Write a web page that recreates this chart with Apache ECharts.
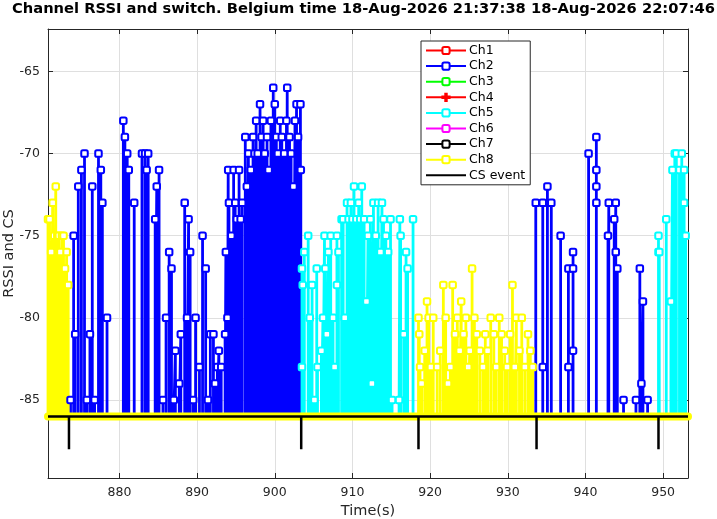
<!DOCTYPE html>
<html>
<head>
<meta charset="utf-8">
<script src="https://cdn.jsdelivr.net/npm/echarts@6/dist/echarts.min.js"></script>
<style>
  html, body { margin: 0; padding: 0; background: #fff; }
  #chart { width: 717px; height: 519px; }
</style>
</head>
<body>
<div id="chart"></div>
<script>
// rssi floor: every trace drops back here between samples
const BASE = -86;
const CS_LOW = -88;
const timeSpan = [870.8, 953.2];
const rssiSpan = [-89.75, -62.42];
const timeTicks = [880, 890, 900, 910, 920, 930, 940, 950];
const rssiTicks = [-85, -80, -75, -70, -65];

const ch1Time = [], ch1Rssi = [];
const ch3Time = [], ch3Rssi = [];
const ch4Time = [], ch4Rssi = [];
const ch6Time = [], ch6Rssi = [];
const ch7Time = [], ch7Rssi = [];

const ch2Time = [
  873.7, 874.1, 874.3, 874.7, 875.1, 875.5, 875.8, 876.2, 876.5, 876.8, 877.3, 877.6, 877.8, 878.4,
  880.5, 880.7, 881.0, 881.2, 881.9, 882.9, 883.3, 883.5, 883.7, 884.6, 884.8, 885.1, 885.6,
  886.0, 886.4, 886.7, 887.0, 887.2, 887.7, 887.9, 888.4, 888.7, 888.9, 889.1, 889.5, 889.8,
  890.3, 890.7, 891.1, 891.4, 891.7, 892.1, 892.3, 892.6, 892.8, 893.1, 893.6, 893.7, 893.9,
  894.0, 894.1, 894.4, 894.7, 894.9, 895.1, 895.4, 895.6, 895.8, 896.2, 896.4, 896.6, 896.9,
  897.2, 897.4, 897.6, 897.8, 898.1, 898.3, 898.5, 898.7, 899.0, 899.2, 899.5, 899.8, 900.0,
  900.2, 900.4, 900.7, 900.9, 901.2, 901.5, 901.6, 901.9, 902.1, 902.4, 902.6, 902.8, 903.0,
  903.3, 903.35,
  933.6, 934.5, 934.5, 935.1, 935.6, 936.8, 937.8, 937.8, 938.4, 938.4, 938.4, 940.4, 941.4,
  941.4, 941.4, 941.4, 942.9, 943.0, 943.7, 943.9, 943.9, 944.1, 944.9, 946.5, 947.0, 947.2,
  947.4, 948.0
];
const ch2Rssi = [
  -85, -75, -81, -72, -71, -70, -85, -81, -72, -85, -70, -71, -73, -80,
  -68, -69, -70, -71, -73, -70, -70, -71, -70, -74, -72, -71, -85,
  -80, -76, -77, -85, -82, -84, -81, -73, -80, -74, -76, -85, -80,
  -83, -75, -77, -85, -81, -81, -84, -83, -82, -83, -81, -76, -80,
  -71, -73, -75, -71, -73, -74, -71, -74, -73, -69, -72, -70, -71,
  -69, -70, -68, -70, -67, -69, -68, -70, -69, -71, -68, -66, -67,
  -69, -70, -68, -69, -70, -68, -66, -69, -70, -72, -68, -67, -69,
  -67, -71,
  -73, -73, -83, -72, -73, -75, -77, -83, -76, -77, -82, -70, -69,
  -71, -72, -73, -75, -73, -74, -73, -76, -77, -85, -85, -77, -84,
  -79, -85
];

const ch5Time = [
  903.5, 903.5, 903.6, 903.8, 904.3, 904.5, 904.8, 905.1, 905.4, 905.5, 906.0, 906.2, 906.4,
  906.5, 906.7, 906.9, 907.2, 907.5, 907.7, 908.0, 908.0, 908.2, 908.6, 908.8, 909.0, 909.3,
  909.5, 909.8, 910.0, 910.2, 910.5, 910.8, 911.0, 911.2, 911.5, 911.8, 912.0, 912.3, 912.5,
  912.7, 913.0, 913.3, 913.6, 913.8, 914.0, 914.3, 914.6, 914.9, 915.1, 916.0, 916.1, 916.2,
  916.6, 916.9, 917.1, 917.8,
  949.4, 949.4, 949.5, 950.4, 951.0, 951.2, 951.5, 951.7, 952.1, 952.4, 952.7, 952.7, 952.9
];
const ch5Rssi = [
  -77, -83, -78, -76, -75, -80, -78, -85, -77, -83, -82, -80, -75,
  -77, -81, -76, -75, -80, -83, -75, -78, -76, -74, -74, -80, -73,
  -74, -73, -74, -72, -74, -73, -74, -72, -74, -79, -75, -74, -84,
  -73, -75, -73, -76, -73, -74, -75, -76, -74, -85, -85, -74, -75,
  -81, -76, -77, -74,
  -76, -75, -76, -74, -79, -71, -70, -70, -71, -70, -71, -73, -75
];

const ch8Time = [
  870.8, 871.0, 871.2, 871.4, 871.6, 871.8, 872.0, 872.2, 872.4, 872.6, 872.8, 873.0, 873.2, 873.4,
  918.5, 918.6, 918.7, 918.9, 919.3, 919.6, 919.8, 920.1, 920.4, 920.9, 921.3, 921.7, 922.0,
  922.3, 922.6, 922.9, 923.2, 923.5, 923.8, 924.0, 924.3, 924.6, 924.9, 925.1, 925.4, 925.7,
  926.0, 926.4, 926.8, 927.1, 927.4, 927.8, 928.2, 928.5, 928.9, 929.2, 929.6, 929.9, 930.3,
  930.6, 930.9, 931.1, 931.5, 931.8, 932.2, 932.6, 932.9, 933.2
];
const ch8Rssi = [
  -74, -74, -76, -73, -75, -72, -75, -75, -76, -75, -75, -77, -76, -78,
  -80, -81, -83, -84, -82, -79, -80, -83, -80, -83, -82, -78, -80,
  -84, -83, -78, -81, -80, -82, -79, -81, -80, -83, -82, -77, -80,
  -81, -82, -83, -81, -82, -80, -81, -83, -80, -81, -82, -83, -81,
  -78, -83, -80, -82, -80, -83, -81, -82, -83
];

const csTime = [873.5, 903.4, 918.5, 933.7, 949.4];

const INK = '#262626';
const FONT = 'DejaVu Sans';

function stems(times, values) {
  const out = [];
  times.forEach((t, i) => {
    out.push({ value: [t, BASE], symbol: 'none' });
    out.push([t, values[i]]);
    out.push({ value: [t, BASE], symbol: 'none' });
  });
  return out;
}

function channel(name, color, times, values, symbol) {
  return {
    name: name,
    type: 'line',
    data: stems(times, values),
    symbol: symbol || 'emptyRoundRect',
    symbolSize: 6.5,
    showAllSymbol: true,
    itemStyle: { color: color, borderColor: color, borderWidth: 2.3 },
    lineStyle: { color: color, width: 2.8 },
    emphasis: { disabled: true }
  };
}

const csData = [[timeSpan[0], BASE]];
csTime.forEach(t => {
  csData.push([t, BASE], [t, CS_LOW], [t, BASE]);
});
csData.push([timeSpan[1], BASE]);

const plus = 'path://M4,0H6V4H10V6H6V10H4V6H0V4H4Z';

const chart = echarts.init(document.getElementById('chart'));
const option = {
  animation: false,
  backgroundColor: '#fff',
  title: {
    text: 'Channel RSSI and switch. Belgium time 18-Aug-2026 21:37:38 18-Aug-2026 22:07:46',
    left: 7,
    top: -3,
    textStyle: { fontFamily: FONT, fontSize: 14.7, fontWeight: 'bold', color: '#000' }
  },
  legend: {
    orient: 'vertical',
    left: 421,
    top: 41,
    padding: [3, 5, 3, 4],
    itemWidth: 40,
    itemHeight: 9,
    itemGap: 2.6,
    backgroundColor: '#fff',
    borderColor: INK,
    borderWidth: 1,
    textStyle: { fontFamily: FONT, fontSize: 12.5, color: '#000', padding: [0, 0, 0, -2] },
    data: ['Ch1', 'Ch2', 'Ch3', 'Ch4', 'Ch5', 'Ch6', 'Ch7', 'Ch8',
      { name: 'CS event', itemStyle: { opacity: 0 } }]
  },
  grid: { left: 48, right: 29, top: 29, bottom: 41, outerBoundsMode: 'none' },
  xAxis: [{
    type: 'value',
    min: timeSpan[0],
    max: timeSpan[1],
    name: 'Time(s)',
    nameLocation: 'middle',
    nameGap: 26,
    nameMoveOverlap: false,
    nameTextStyle: { fontFamily: FONT, fontSize: 14.5, color: INK },
    axisLine: { show: true, onZero: false, lineStyle: { color: INK } },
    axisTick: { show: true, inside: true, length: 5, customValues: timeTicks, lineStyle: { color: INK } },
    axisLabel: { customValues: timeTicks, fontFamily: FONT, fontSize: 12.5, color: INK, margin: 8 },
    splitLine: { show: true, lineStyle: { color: '#dfdfdf' } }
  }, {
    type: 'value',
    position: 'top',
    min: timeSpan[0],
    max: timeSpan[1],
    axisLine: { show: true, onZero: false, lineStyle: { color: INK } },
    axisTick: { show: true, inside: true, length: 5, customValues: timeTicks, lineStyle: { color: INK } },
    axisLabel: { show: false },
    splitLine: { show: false }
  }],
  yAxis: [{
    type: 'value',
    min: rssiSpan[0],
    max: rssiSpan[1],
    name: 'RSSI and CS',
    nameLocation: 'middle',
    nameGap: 31,
    nameMoveOverlap: false,
    nameTextStyle: { fontFamily: FONT, fontSize: 14.5, color: INK },
    axisLine: { show: true, onZero: false, lineStyle: { color: INK } },
    axisTick: { show: true, inside: true, length: 5, customValues: rssiTicks, lineStyle: { color: INK } },
    axisLabel: { customValues: rssiTicks, fontFamily: FONT, fontSize: 12.5, color: INK, margin: 8 },
    splitLine: { show: true, lineStyle: { color: '#dfdfdf' } }
  }, {
    type: 'value',
    position: 'right',
    min: rssiSpan[0],
    max: rssiSpan[1],
    axisLine: { show: true, onZero: false, lineStyle: { color: INK } },
    axisTick: { show: true, inside: true, length: 5, customValues: rssiTicks, lineStyle: { color: INK } },
    axisLabel: { show: false },
    splitLine: { show: false }
  }],
  series: [
    channel('Ch1', '#ff0000', ch1Time, ch1Rssi),
    channel('Ch2', '#0000ff', ch2Time, ch2Rssi),
    channel('Ch3', '#00ff00', ch3Time, ch3Rssi),
    channel('Ch4', '#ff0000', ch4Time, ch4Rssi, plus),
    channel('Ch5', '#00ffff', ch5Time, ch5Rssi),
    channel('Ch6', '#ff00ff', ch6Time, ch6Rssi),
    channel('Ch7', '#000000', ch7Time, ch7Rssi),
    channel('Ch8', '#ffff00', ch8Time, ch8Rssi),
    {
      // ch8 rests on the floor for the whole run: draw that as one thick band
      name: 'Ch8',
      type: 'line',
      data: [[timeSpan[0], BASE], [timeSpan[1], BASE]],
      symbol: 'none',
      clip: false,
      lineStyle: { color: '#ffff00', width: 8, cap: 'round' },
      emphasis: { disabled: true }
    },
    {
      name: 'CS event',
      type: 'line',
      data: csData,
      symbol: 'none',
      clip: false,
      itemStyle: { color: '#000' },
      lineStyle: { color: '#000', width: 2.5 },
      emphasis: { disabled: true }
    }
  ]
};
chart.setOption(option);
</script>
</body>
</html>
